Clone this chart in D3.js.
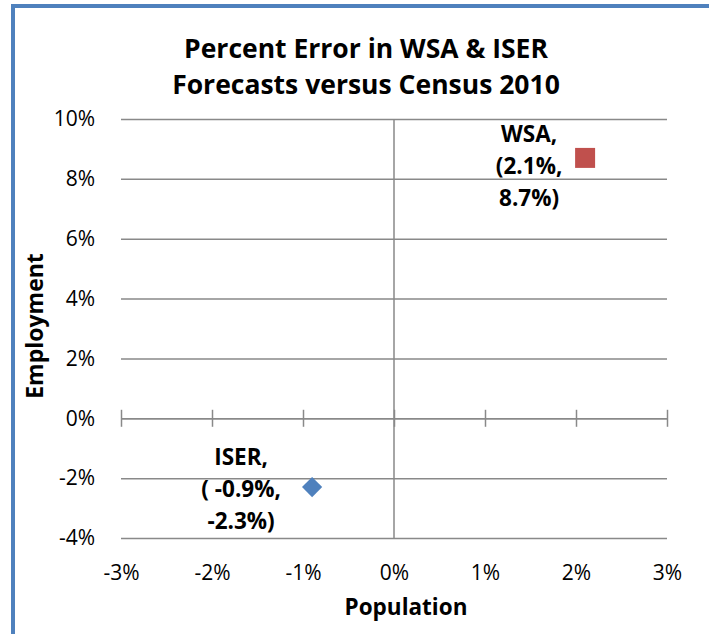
<!DOCTYPE html>
<html>
<head>
<meta charset="utf-8">
<script src="https://cdn.jsdelivr.net/npm/d3@7"></script>
<style>
  html, body { margin: 0; padding: 0; background: #fff; }
  svg { display: block; font-family: "Open Sans", sans-serif; }
</style>
</head>
<body>
<div id="chart"></div>
<script>
// data
const seriesNames = ["WSA", "ISER"];
const populationErr = [2.1, -0.9];   // x, percent
const employmentErr = [8.7, -2.3];   // y, percent
const pointLabels = [
    ["WSA,", "(2.1%,", "8.7%)"],
    ["ISER,", "( -0.9%,", "-2.3%)"]
];
const xTicks = [-3, -2, -1, 0, 1, 2, 3];
const yTicks = [-4, -2, 0, 2, 4, 6, 8, 10];
const titleLines = ["Percent Error in WSA & ISER", "Forecasts versus Census 2010"];

// sizes
const width = 709;
const height = 634;
const plot = { left: 121, right: 667, top: 119, bottom: 538 };
const gridColor = "#898989";
const colors = { WSA: "#C0504D", ISER: "#4F81BD" };
// label placement relative to the marker (left of it)
const labelOffset = { WSA: { dx: -56, dy: 16 }, ISER: { dx: -71, dy: 10 } };

const svg = d3.select("#chart")
    .append("svg")
    .attr("width", width)
    .attr("height", height);

// outer frame, runs off the right and bottom edge
svg.append("rect")
    .attr("x", 13)
    .attr("y", 6)
    .attr("width", 800)
    .attr("height", 800)
    .attr("fill", "none")
    .attr("stroke", "#4F81BD")
    .attr("stroke-width", 4);

const x = d3.scaleLinear().domain([-3, 3]).range([plot.left, plot.right]);
const y = d3.scaleLinear().domain([-4, 10]).range([plot.bottom, plot.top]);

// title
svg.append("text")
    .attr("x", 366)
    .attr("text-anchor", "middle")
    .attr("font-size", "26.5px")
    .attr("font-weight", "700")
    .selectAll("tspan")
    .data(titleLines)
    .enter()
    .append("tspan")
    .attr("x", 366)
    .attr("y", (d, i) => 58 + i * 36)
    .text(d => d);

// horizontal gridlines + y labels
const yAxis = svg.append("g")
    .attr("transform", "translate(" + plot.left + ",0)")
    .call(d3.axisLeft(y)
        .tickValues(yTicks)
        .tickSize(-(plot.right - plot.left))
        .tickPadding(26)
        .tickFormat(d => d + "%"));
yAxis.select(".domain").remove();
yAxis.selectAll(".tick line")
    .attr("stroke", gridColor)
    .attr("stroke-width", 1.5);
yAxis.selectAll(".tick text")
    .attr("font-size", "21px")
    .attr("font-family", "'Open Sans', sans-serif")
    .attr("fill", "#000");

// vertical axis at x = 0
svg.append("line")
    .attr("x1", x(0))
    .attr("x2", x(0))
    .attr("y1", y(10))
    .attr("y2", y(-4))
    .attr("stroke", gridColor)
    .attr("stroke-width", 1.5);

// horizontal axis at y = 0 with cross ticks
const xAxis = svg.append("g")
    .attr("transform", "translate(0," + y(0) + ")")
    .call(d3.axisBottom(x)
        .tickValues(xTicks)
        .tickSize(8.5)
        .tickSizeOuter(0)
        .tickFormat(""));
xAxis.select(".domain")
    .attr("stroke", gridColor)
    .attr("stroke-width", 1.5);
xAxis.selectAll(".tick line")
    .attr("y1", -8.5)
    .attr("stroke", gridColor)
    .attr("stroke-width", 1.5);

// x labels along the bottom
const xLabels = svg.append("g")
    .attr("transform", "translate(0," + plot.bottom + ")")
    .call(d3.axisBottom(x)
        .tickValues(xTicks)
        .tickSize(0)
        .tickPadding(27)
        .tickFormat(d => d + "%"));
xLabels.select(".domain").remove();
xLabels.selectAll(".tick text")
    .attr("font-size", "21px")
    .attr("font-family", "'Open Sans', sans-serif")
    .attr("fill", "#000");

// axis titles
svg.append("text")
    .attr("x", 406)
    .attr("y", 615)
    .attr("text-anchor", "middle")
    .attr("font-size", "22.5px")
    .attr("font-weight", "700")
    .text("Population");

svg.append("text")
    .attr("transform", "translate(43,326) rotate(-90)")
    .attr("text-anchor", "middle")
    .attr("font-size", "23px")
    .attr("font-weight", "700")
    .text("Employment");

// points
const points = seriesNames.map((name, i) => ({
    name: name,
    px: populationErr[i],
    py: employmentErr[i],
    lines: pointLabels[i]
}));

const symbolOf = { WSA: d3.symbolSquare, ISER: d3.symbolDiamond2 };
const sizeOf = { WSA: 400, ISER: 260 };

const pt = svg.selectAll(".pt")
    .data(points)
    .enter()
    .append("g")
    .attr("class", "pt")
    .attr("transform", d => "translate(" + x(d.px) + "," + y(d.py) + ")");

pt.append("path")
    .attr("d", d => d3.symbol().type(symbolOf[d.name]).size(sizeOf[d.name])())
    .attr("fill", d => colors[d.name]);

pt.append("text")
    .attr("text-anchor", "middle")
    .attr("font-size", "22.5px")
    .attr("font-weight", "700")
    .selectAll("tspan")
    .data(d => d.lines.map((t, j) => ({ t: t, j: j, name: d.name })))
    .enter()
    .append("tspan")
    .attr("x", d => labelOffset[d.name].dx)
    .attr("y", d => labelOffset[d.name].dy + (d.j - 1) * 32)
    .text(d => d.t);
</script>
</body>
</html>
